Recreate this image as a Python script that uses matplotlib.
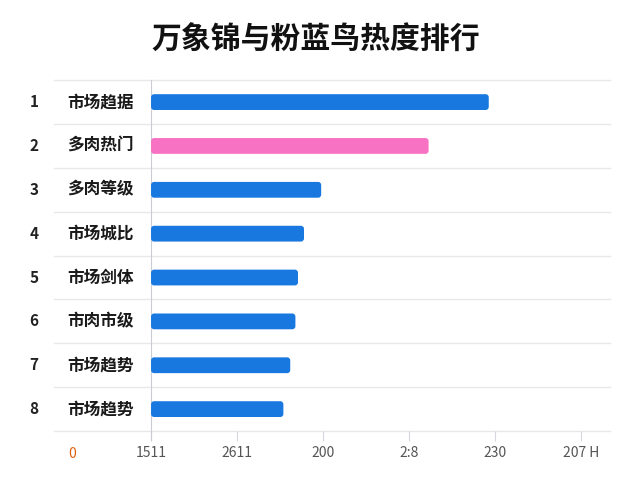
import matplotlib
matplotlib.use("Agg")
import matplotlib.pyplot as plt
from matplotlib.patches import FancyBboxPatch

plt.rcParams['font.family'] = ['Noto Sans CJK SC', 'DejaVu Sans']

ranks = ["1", "2", "3", "4", "5", "6", "7", "8"]
names = ["市场趋据", "多肉热门", "多肉等级", "市场城比", "市场剑体", "市肉市级", "市场趋势", "市场趋势"]
values = [346.5, 311.5, 249, 239, 235.5, 234, 231, 227]
highlight = 1  # pink row

tick_pos = [150, 200, 250, 300, 350, 400]
tick_labels = ["1511", "2611", "200", "2:8", "230", "207 H"]

blue = "#1878e0"
pink = "#f772c2"
grid_c = "#e6e8eb"

fig = plt.figure(figsize=(6.4, 4.8), dpi=100)
ax = fig.add_axes([0.236, 0.102, 0.717, 0.731])

colors = [pink if i == highlight else blue for i in range(len(values))]
ypos = list(range(len(values)))
bars = ax.barh(ypos, [v - 150 for v in values], left=150, height=0.36,
               color=colors, zorder=3)

ax.set_xlim(150, 417)
ax.set_ylim(len(values) - 0.5, -0.5)

# swap the plain bars for rounded ones (aspect = y units per x unit on screen)
aspect = (8 / 351) / (267 / 459)
for b in bars:
    x0, y0 = b.get_x(), b.get_y()
    w, h = b.get_width(), b.get_height()
    rb = FancyBboxPatch((x0, y0), w, h,
                        boxstyle="round,pad=0,rounding_size=1.8",
                        mutation_aspect=aspect, fc=b.get_facecolor(),
                        ec='none', zorder=3)
    b.remove()
    ax.add_patch(rb)

# row separators, running out past the axes on the left
tr = ax.get_yaxis_transform()
for k in range(len(values) + 1):
    ax.plot([-0.211, 1.0], [k - 0.5, k - 0.5], color=grid_c, lw=1,
            transform=tr, clip_on=False, zorder=1)

for i, (r, n) in enumerate(zip(ranks, names)):
    ax.text(-0.255, i, r, transform=tr, ha='center', va='center',
            fontsize=11, fontweight='bold', color='#222222')
    ax.text(-0.183, i, n, transform=tr, ha='left', va='center',
            fontsize=12, fontweight='bold', color='#1a1a1a')

for s in ['top', 'right', 'bottom']:
    ax.spines[s].set_visible(False)
ax.spines['left'].set_color('#c9cdd3')
ax.spines['left'].set_bounds(-0.5, len(values) - 0.3)
ax.spines['left'].set_position(('data', 150))

ax.set_yticks([])
ax.set_xticks(tick_pos, tick_labels)
ax.tick_params(axis='x', length=7, color='#d5d8dc', labelcolor='#555555',
               labelsize=10, pad=4)

ax.text(-0.181, -0.045, "0", transform=ax.transAxes, ha='left', va='top',
        fontsize=10, color='#e06010')

fig.text(0.494, 0.917, "万象锦与粉蓝鸟热度排行", ha='center', va='center',
         fontsize=21.5, fontweight='bold', color='#111111')

fig.savefig("out.png", dpi=100, facecolor='white')
